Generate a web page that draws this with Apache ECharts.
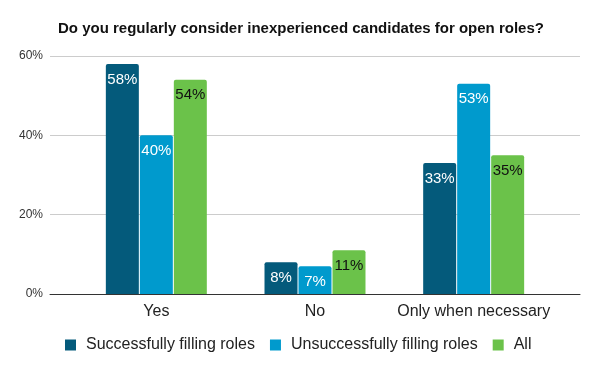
<!DOCTYPE html>
<html><head><meta charset="utf-8">
<script src="https://cdn.jsdelivr.net/npm/echarts@6/dist/echarts.min.js"></script>
<style>html,body{margin:0;padding:0;background:#fff}#c{width:600px;height:371px}</style>
</head><body><div id="c"></div>
<script>
const categories = ['Yes', 'No', 'Only when necessary'];
const seriesNames = ['Successfully filling roles', 'Unsuccessfully filling roles', 'All'];
const successfully = [58, 8, 33];
const unsuccessfully = [40, 7, 53];
const allValues = [54, 11, 35];
const yTicks = [0, 20, 40, 60];
const colors = ['#045a7b', '#009acd', '#6bc24a'];
const labelColors = ['#ffffff', '#ffffff', '#111111'];
const seriesData = [successfully, unsuccessfully, allValues];

const chart = echarts.init(document.getElementById('c'));
const font = 'Liberation Sans, Arial, sans-serif';
chart.setOption({
  animation: false,
  title: {
    text: 'Do you regularly consider inexperienced candidates for open roles?',
    left: 58, top: 21, padding: 0,
    textStyle: {fontFamily: font, fontSize: 15, fontWeight: 'bold', color: '#111'}
  },
  legend: {
    data: seriesNames,
    left: 60, top: 332,
    itemWidth: 11, itemHeight: 11, itemGap: 15,
    icon: 'rect',
    textStyle: {fontFamily: font, fontSize: 16, color: '#222', padding: [0, 0, 0, 5]}
  },
  grid: [
    {left: 50, right: 20, top: 56, bottom: 77, containLabel: false},
    {left: 77, right: 47, top: 56, bottom: 77, containLabel: false}
  ],
  xAxis: [
    {gridIndex: 0, type: 'category', data: categories, axisLabel: {show: false}, axisTick: {show: false},
     axisLine: {show: true, lineStyle: {color: '#333', width: 1}}},
    {gridIndex: 1, type: 'category', data: categories, axisTick: {show: false},
     axisLine: {show: false},
     axisLabel: {interval: 0, fontFamily: font, fontSize: 16, color: '#222', margin: 10}}
  ],
  yAxis: [
    {gridIndex: 0, type: 'value', min: 0, max: 60, interval: 20,
     axisLabel: {fontFamily: font, fontSize: 12, color: '#333', formatter: v => yTicks.includes(v) ? v + '%' : '', margin: 7},
     splitLine: {lineStyle: {color: '#cccccc'}}, axisLine: {show: false}, axisTick: {show: false}},
    {gridIndex: 1, type: 'value', min: 0, max: 60, interval: 20, show: false, splitLine: {show: false}}
  ],
  series: seriesData.map((d, i) => ({
    name: seriesNames[i], type: 'bar', xAxisIndex: 1, yAxisIndex: 1,
    data: d, barWidth: 33, barGap: '3%',
    itemStyle: {color: colors[i], borderRadius: [2, 2, 0, 0]},
    label: {show: true, position: 'insideTop', distance: 8, formatter: '{c}%',
      fontFamily: font, fontSize: 15, color: labelColors[i]}
  })).concat([{type: 'bar', xAxisIndex: 0, yAxisIndex: 0, data: [], silent: true}])
});
</script></body></html>
